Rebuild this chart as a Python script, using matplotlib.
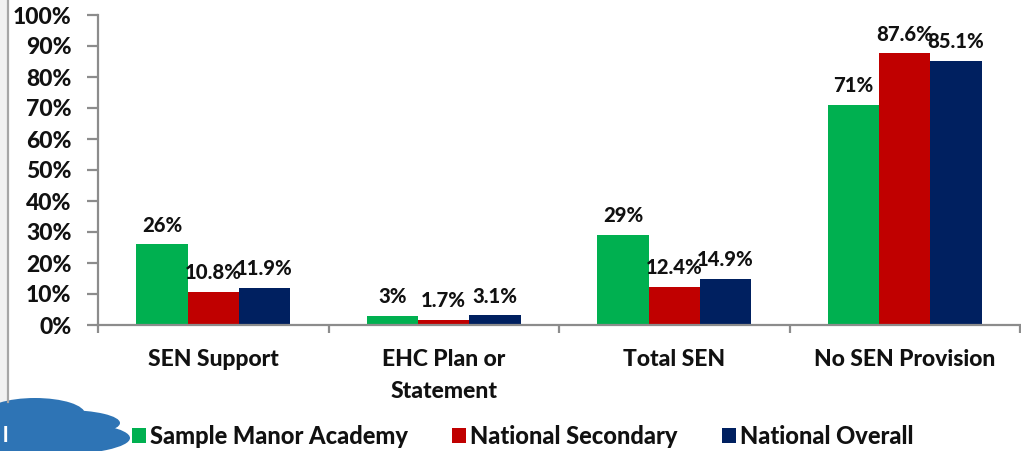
import matplotlib
matplotlib.use("Agg")
import matplotlib.pyplot as plt
from matplotlib.patches import Ellipse, Rectangle
from matplotlib.lines import Line2D

W, H = 1021, 451

categories = ["SEN Support", "EHC Plan or\nStatement", "Total SEN", "No SEN Provision"]
series_names = ["Sample Manor Academy", "National Secondary", "National Overall"]
academy = [26, 3, 29, 71]
secondary = [10.8, 1.7, 12.4, 87.6]
overall = [11.9, 3.1, 14.9, 85.1]
academy_labels = ["26%", "3%", "29%", "71%"]
secondary_labels = ["10.8%", "1.7%", "12.4%", "87.6%"]
overall_labels = ["11.9%", "3.1%", "14.9%", "85.1%"]
colors = ["#00B050", "#C00000", "#002060"]
y_ticks = list(range(0, 101, 10))

plt.rcParams["font.family"] = ["Lato", "DejaVu Sans"]
plt.rcParams["font.weight"] = 900

fig = plt.figure(figsize=(W / 100, H / 100), dpi=100, facecolor="white")
ax = fig.add_axes([98 / W, 1 - 325 / H, 922 / W, 310 / H])

bar_w = 0.222
for i, (vals, labels, col) in enumerate(zip((academy, secondary, overall),
                                            (academy_labels, secondary_labels, overall_labels),
                                            colors)):
    xs = [c + (i - 1) * bar_w for c in range(len(categories))]
    ax.bar(xs, vals, width=bar_w, color=col, linewidth=0)
    for x, v, t in zip(xs, vals, labels):
        ax.annotate(t, (x, v), xytext=(0, 7), textcoords="offset points",
                    ha="center", va="bottom", fontsize=14.6, color="#111111",
                    annotation_clip=False)

ax.set_xlim(-0.5, 3.5)
ax.set_ylim(0, 100)
ax.set_yticks(y_ticks, [f"{t}%" for t in y_ticks])
ax.set_xticks([-0.5, 0.5, 1.5, 2.5, 3.5], minor=True)
ax.set_xticks(range(len(categories)), categories)
ax.tick_params(axis="y", length=8, width=1.6, color="#8C8C8C", labelsize=16.5,
               labelcolor="#111111", pad=11)
ax.tick_params(axis="x", which="major", length=0, labelsize=16.5, labelcolor="#111111", pad=17.5)
ax.tick_params(axis="x", which="minor", length=6, width=1.6, color="#8C8C8C")
for s in ("top", "right"):
    ax.spines[s].set_visible(False)
for s in ("left", "bottom"):
    ax.spines[s].set_color("#8C8C8C")
    ax.spines[s].set_linewidth(1.6)
for lab in ax.get_xticklabels():
    lab.set_linespacing(1.62)

# Slide furniture around the chart: side strip, frame line and cloud callout
overlay = fig.add_axes([0, 0, 1, 1], facecolor="none")
overlay.set_xlim(0, W)
overlay.set_ylim(H, 0)
overlay.axis("off")
overlay.add_patch(Rectangle((0, 0), 7, H, color="#F1F1F1", lw=0))
overlay.add_line(Line2D([8, 8], [0, 402], color="#A6A6A6", lw=1.6))
cloud = "#2E74B5"
overlay.add_patch(Ellipse((35, 414), 100, 32, color=cloud, lw=0))
overlay.add_patch(Ellipse((65, 423), 110, 26, color=cloud, lw=0))
overlay.add_patch(Ellipse((50, 438), 160, 34, color=cloud, lw=0))
overlay.text(5, 435, "l", color="white", fontsize=15, ha="center", va="center")

# Legend entries
handles = [Rectangle((0, 0), 1, 1, color=c, lw=0) for c in colors]
leg = fig.legend(handles, series_names, ncol=3, frameon=False, fontsize=17,
                 loc="center left", bbox_to_anchor=(132 / W, 1 - 436 / H),
                 handlelength=0.6, handleheight=0.6, handletextpad=0.17,
                 columnspacing=1.86, labelcolor="#111111", borderpad=0, borderaxespad=0)

fig.savefig("out.png", dpi=100)
